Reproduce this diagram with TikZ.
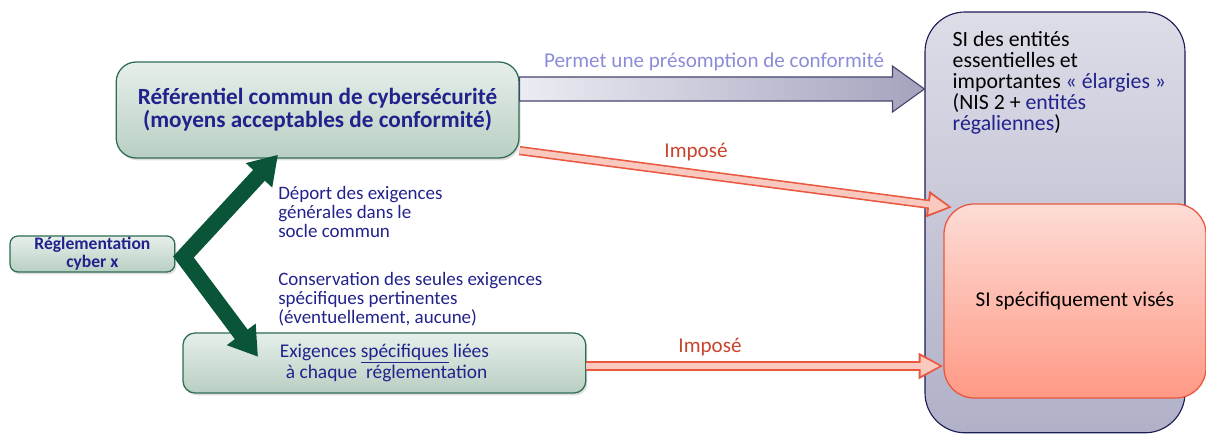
\documentclass[tikz,border=0pt]{standalone}
\usepackage{fontspec}
\setmainfont{Carlito}
\usetikzlibrary{arrows.meta,calc,shadows,positioning}

\definecolor{boxgreen}{HTML}{2E6B52}
\definecolor{greentop}{HTML}{E6EFEA}
\definecolor{greenbot}{HTML}{B9CFC3}
\definecolor{darkgreen}{HTML}{0A5538}
\definecolor{navytext}{HTML}{22228C}
\definecolor{lavtext}{HTML}{8C8CD8}
\definecolor{imptext}{HTML}{C8442E}
\definecolor{sitop}{HTML}{DDDDE8}
\definecolor{sibot}{HTML}{B0B0C8}
\definecolor{siborder}{HTML}{1C1C55}
\definecolor{redtop}{HTML}{FDDCD5}
\definecolor{redbot}{HTML}{FF9985}
\definecolor{redborder}{HTML}{E9573F}
\definecolor{pinkfill}{HTML}{F9C9C0}
\definecolor{arrowleft}{HTML}{ECECF3}
\definecolor{arrowright}{HTML}{A3A3BE}
\definecolor{arrowborder}{HTML}{45456E}

\tikzset{
	greenbox/.style={draw=boxgreen, line width=0.9pt, top color=greentop, bottom color=greenbot,
		drop shadow={opacity=0.25, shadow xshift=0.04cm, shadow yshift=-0.06cm}, align=center, text=navytext},
	desctext/.style={anchor=north west, inner sep=0pt, align=left, text=navytext, font=\fontsize{13.5}{13.4}\selectfont},
	impose/.style={text=imptext, font=\fontsize{15}{17}\selectfont},
	redouter/.style={draw=redborder, line width=0.23cm, -{Triangle[length=0.62cm, width=0.62cm]}},
	redinner/.style={draw=pinkfill, line width=0.15cm, shorten >=0.09cm, -{Triangle[length=0.48cm, width=0.46cm]}},
	greenarrow/.style={draw=darkgreen, line width=0.4cm, line join=miter,
		{Triangle[length=0.7cm, width=0.85cm]}-{Triangle[length=0.7cm, width=0.85cm]}}
}

\begin{document}
\begin{tikzpicture}
	\useasboundingbox (0,0) rectangle (30.15,10.85);

	% SI boxes
	\node (siext) [draw=siborder, line width=0.8pt, rounded corners=1cm, top color=sitop, bottom color=sibot,
		minimum width=6.5cm, minimum height=10.52cm] at (26.375,5.29) {};
	\node (siexttext) [anchor=north west, inner sep=0pt, align=left, font=\fontsize{15.5}{14.8}\selectfont]
		at ([xshift=0.7cm, yshift=-0.5cm]siext.north west)
		{SI des entités\\essentielles et\\importantes \textcolor{navytext}{«~élargies~»}\\(NIS 2 + \textcolor{navytext}{entités}\\\textcolor{navytext}{régaliennes})};
	\node (sivis) [draw=redborder, line width=0.9pt, rounded corners=0.75cm, top color=redtop, bottom color=redbot,
		minimum width=6.55cm, minimum height=4.85cm, font=\fontsize{15}{17}\selectfont] at (26.875,3.325)
		{SI spécifiquement visés};

	% green boxes
	\node (ref) [greenbox, rounded corners=0.5cm, minimum width=10.07cm, minimum height=2.4cm,
		font=\bfseries\fontsize{16.5}{16.6}\selectfont] at (7.94,8.1)
		{Référentiel commun de cybersécurité\\(moyens acceptables de conformité)};
	\node (regl) [greenbox, rounded corners=0.2cm, minimum width=4.12cm, minimum height=0.9cm, inner sep=0pt,
		font=\bfseries\fontsize{12.5}{12.6}\selectfont] at (2.31,4.5)
		{Réglementation\\cyber x};
	\node (exig) [greenbox, rounded corners=0.3cm, minimum width=10.07cm, minimum height=1.5cm,
		font=\fontsize{13.8}{13.8}\selectfont] at (9.61,1.775)
		{Exigences \underline{spécifiques} liées\\\ à chaque\ \ réglementation};

	% presomption arrow
	\coordinate (gs) at ([yshift=0.525cm]ref.east);
	\coordinate (ge) at (gs -| siext.west);
	\shadedraw[draw=arrowborder, line width=0.8pt, left color=arrowleft, right color=arrowright]
		([yshift=0.3cm]gs) -- ([xshift=-0.8cm, yshift=0.3cm]ge) -- ([xshift=-0.8cm, yshift=0.575cm]ge) -- (ge)
		-- ([xshift=-0.8cm, yshift=-0.575cm]ge) -- ([xshift=-0.8cm, yshift=-0.3cm]ge) -- ([yshift=-0.3cm]gs) -- cycle;
	\node (permet) [text=lavtext, font=\fontsize{15}{17}\selectfont] at ($(gs)!0.5!(ge)+(-0.2,0.68)$)
		{Permet une présomption de conformité};

	% imposed arrows
	\coordinate (r1s) at ([yshift=0.2cm]ref.south east);
	\coordinate (r1e) at ([xshift=0.22cm, yshift=-0.1cm]sivis.north west);
	\draw[redouter] (r1s) -- (r1e);
	\draw[redinner] (r1s) -- (r1e);
	\node (imp1) [impose] at (17.4,7.05) {Imposé};

	\coordinate (r2s) at ([yshift=-0.075cm]exig.east);
	\coordinate (r2e) at (r2s -| sivis.west);
	\draw[redouter] (r2s) -- (r2e);
	\draw[redinner] (r2s) -- (r2e);
	\node (imp2) [impose] at (17.75,2.175) {Imposé};

	% split of the regulation
	\coordinate (uptip) at (6.95,6.98);
	\coordinate (downtip) at (6.45,1.93);
	\coordinate (fork) at ([xshift=0.2cm, yshift=-0.075cm]regl.east);
	\draw[greenarrow] (uptip) -- (fork) -- (downtip);

	% labels
	\node (deport) [desctext] at (6.95,6.2)
		{Déport des exigences\\générales dans le\\socle commun};
	\node (conserv) [desctext] at (6.95,4.05)
		{Conservation des seules exigences\\spécifiques pertinentes\\(éventuellement, aucune)};

\end{tikzpicture}
\end{document}
